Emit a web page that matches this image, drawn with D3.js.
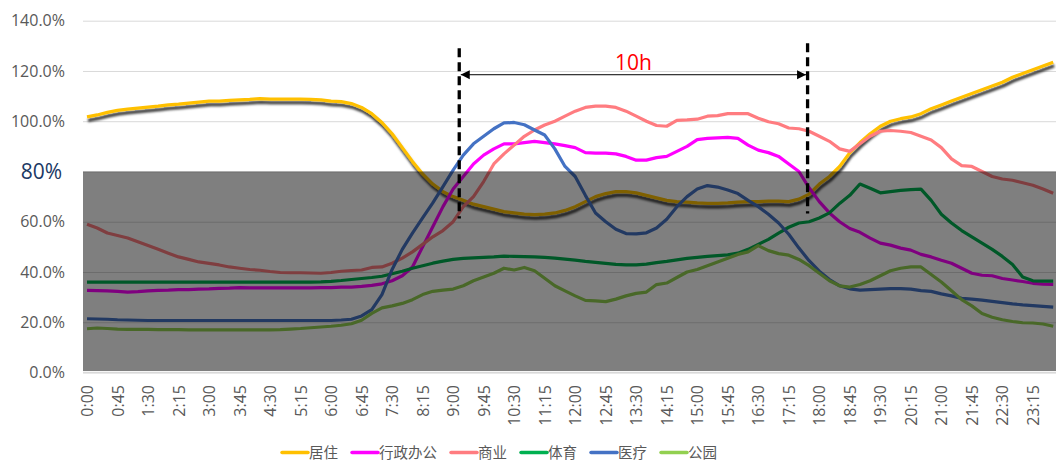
<!DOCTYPE html>
<html lang="zh">
<head>
<meta charset="UTF-8">
<title>各类用地活力时变</title>
<script src="https://cdn.jsdelivr.net/npm/d3@7/dist/d3.min.js"></script>
<style>
body{margin:0;background:#fff;}
svg{display:block;font-family:"Open Sans","Noto Sans CJK SC",sans-serif;}
</style>
</head>
<body>
<script>
// 每15分钟一个时刻, 0:00 ~ 23:45
var times = d3.range(96).map(function(i){ return Math.floor(i/4) + ":" + String(i%4*15).padStart(2,"0"); });
var yTicks = [0,20,40,60,80,100,120,140];
var names = ["居住","行政办公","商业","体育","医疗","公园"];

var juzhu = [101.7,102.5,103.5,104.3,104.8,105.2,105.6,106,106.5,106.8,
	107.2,107.6,108,108,108.3,108.5,108.7,109,108.8,108.8,
	108.8,108.8,108.7,108.5,108,107.8,107,105.5,103,99.5,
	95,89.5,84,79,75,72,70,68.5,67,66,
	65,64,63.5,63,62.8,63,63.5,64.5,66,68,
	70,71.2,72,72,71.5,70.5,69.5,68.5,68,67.8,
	67.5,67.3,67.3,67.5,67.8,68,68,68.2,68.2,68,
	69,71,75,78,82,87.5,91.5,95,98,100,
	101,101.7,103,105,106.5,108,109.5,111,112.5,114,
	115.5,117.5,119,120.5,122,123.5];
var xingzheng = [32.7,32.6,32.5,32.3,32,32.2,32.5,32.7,32.8,33,
	33,33.2,33.3,33.5,33.6,33.8,33.7,33.7,33.7,33.7,
	33.7,33.7,33.7,33.8,33.8,34,34,34.3,34.7,35.3,
	36.5,38.5,42,50,58,66,73,78,83,86.5,
	89,91,91,91.5,92,91.5,91,90.3,89.5,87.5,
	87.3,87.3,87,86,84.5,84.5,85.5,86,88,90,
	92.7,93.2,93.4,93.6,93.2,90.5,88.5,87.5,86,83,
	80,73.5,68,63.5,60,57.3,55.8,53.5,51.5,50.7,
	49.5,48.7,47,46,44.7,43.5,41.5,39.5,38.7,38.5,
	37.4,36.8,36.2,35.5,35.2,35.1];
var shangye = [59,57.5,55.5,54.5,53.5,52,50.5,49,47.5,46,
	45,44,43.4,42.8,42,41.5,41,40.7,40.2,39.8,
	39.7,39.7,39.6,39.5,39.8,40.3,40.6,40.8,41.8,42,
	43.5,45.5,48,51,54,56.5,60,66,70,76,
	83,87,90.5,94,96.5,98.5,100,102,104,105.5,
	106,106,105.5,104,102,100,98.3,98,100.3,100.5,
	100.8,102,102.2,103,103,103,101.2,99.8,99,97.3,
	97,96,94,92,89,88,91,94,96,96.3,
	96,95.5,94,92.5,89.5,85,82.3,82,80,78,
	77,76.5,75.5,74.5,73,71.3];
var tiyu = [36,36,36,36,36,36,36,36,36,36,
	36,36,36,36,36,36,36,36,36,36,
	36,36,36,36.1,36.3,36.6,37,37.4,37.8,38.3,
	39.3,40.3,41.5,42.5,43.5,44.3,45,45.4,45.6,45.8,
	46,46.3,46.2,46.1,46,45.8,45.5,45.1,44.7,44.2,
	43.8,43.4,43,42.8,42.8,43.1,43.7,44.2,44.8,45.4,
	45.8,46.2,46.5,46.8,47.5,49,51,53,55.5,57.8,
	59.5,60,61.5,63.5,67.3,70.5,75,73.3,71.5,72,
	72.5,72.8,73,68.5,63,59.5,56.5,54,51.5,49,
	46.2,43,38,36.5,36.4,36.4];
var yiliao = [21.4,21.3,21.2,21,20.9,20.8,20.7,20.7,20.7,20.7,
	20.7,20.7,20.7,20.7,20.7,20.7,20.7,20.7,20.7,20.7,
	20.7,20.7,20.7,20.7,20.7,20.9,21.2,22.5,25,31,
	41,49,55.5,61.5,67.5,74,80.5,86.5,91,94,
	97,99.3,99.5,98.6,96.5,94.5,89,82,78,70.5,
	63.5,60,57,55.3,55.2,55.6,57.5,61,66,70,
	73,74.4,73.8,72.6,71.2,68.5,66,63,59.5,55,
	49.5,44.5,40.3,37,34.5,33.3,32.8,33,33.2,33.4,
	33.4,33.2,32.6,32.3,31.3,30.5,29.5,29.2,28.8,28.3,
	27.8,27.3,26.9,26.6,26.3,26];
var gongyuan = [17.4,17.7,17.5,17.3,17.2,17.2,17.2,17.1,17.1,17.1,
	17,17,17,17,17,17,17,17,17,17.1,
	17.3,17.5,17.8,18.1,18.4,18.8,19.4,20.8,23.5,25.7,
	26.5,27.5,29,31,32.3,32.8,33.2,34.5,36.5,38,
	39.5,41.5,40.8,41.8,40.5,37.5,34.5,32.5,30.5,28.7,
	28.5,28.2,29.2,30.5,31.5,32,35,35.6,37.8,40,
	41,42.5,44,45.5,47,48,50.5,48.5,47.3,46.7,
	45,42.5,39.5,36.5,34.5,34,35,36.5,38.5,40.5,
	41.5,42,42,39,36,32.5,29,26.5,23.5,22,
	21,20.3,19.8,19.7,19.3,18.4];

// 标注: 10h 区间(按时刻序号)
var spanFrom = 36.6, spanTo = 70.85, spanLabel = "10h";
var highlight = 80; // 阴影区上限

var series = [juzhu, xingzheng, shangye, tiyu, yiliao, gongyuan];
var colors = ["#FFC000","#FF00FF","#FF7C80","#00B050","#4472C4","#92D050"];

var width = 1056, height = 461;
var left = 83, right = 1056;
var svg = d3.select("body").append("svg").attr("width",width).attr("height",height);

var x = d3.scaleLinear().domain([0,95]).range([87,1053.2]);
var y = d3.scaleLinear().domain([0,140]).range([372.5,20.7]);

var defs = svg.append("defs");
defs.append("filter").attr("id","shadow").attr("x","-5%").attr("y","-30%").attr("width","110%").attr("height","160%")
	.append("feDropShadow").attr("dx",1).attr("dy",3.5).attr("stdDeviation",1.2)
	.attr("flood-color","#000").attr("flood-opacity",0.8);
["s","e"].forEach(function(k){
	defs.append("marker").attr("id","arr"+k).attr("markerUnits","userSpaceOnUse")
		.attr("markerWidth",10).attr("markerHeight",10).attr("refX",k=="e"?9:0).attr("refY",4.5)
		.attr("orient","auto")
		.append("path").attr("d",k=="e"?"M0,0L9,4.5L0,9Z":"M9,0L0,4.5L9,9Z").attr("fill","#000");
});

//网格线
var grid = svg.append("g").attr("transform","translate("+left+",0)")
	.call(d3.axisLeft(y).tickValues(yTicks).tickSize(-(right-left)).tickFormat(""));
grid.select(".domain").remove();
grid.selectAll("line").attr("stroke","#D9D9D9").attr("stroke-width",1);

//y轴文字
var yAxis = svg.append("g").attr("transform","translate("+left+",0)")
	.call(d3.axisLeft(y).tickValues(yTicks).tickSize(0).tickPadding(18)
		.tickFormat(function(d){ return d.toFixed(1)+"%"; }));
yAxis.select(".domain").remove();
yAxis.selectAll("text").attr("fill","#595959").style("font-size","16px").style("font-family","Open Sans");
yAxis.selectAll(".tick").filter(function(d){ return d==highlight; }).select("text")
	.text(highlight+"%").attr("fill","#203864").style("font-size","21px").attr("x",-21);

//x轴文字
var xAxis = svg.append("g").attr("transform","translate(0,"+y(0)+")")
	.call(d3.axisBottom(x).tickValues(d3.range(0,96,3)).tickSize(0)
		.tickFormat(function(i){ return times[i]; }));
xAxis.select(".domain").remove();
xAxis.selectAll("text").attr("fill","#595959").style("font-size","16px").style("font-family","Open Sans")
	.attr("transform","rotate(-90)").attr("x",-12.5).attr("y",0).attr("dy","0.35em")
	.style("text-anchor","end");

//折线
var line = d3.line().x(function(d,i){ return x(i); }).y(function(d){ return y(d); });
svg.selectAll(".series").data(series).enter().append("path").attr("class","series")
	.attr("d",line).attr("fill","none")
	.attr("stroke",function(d,i){ return colors[i]; })
	.attr("stroke-width",3.2).attr("stroke-linejoin","round")
	.attr("filter",function(d,i){ return i==0 ? "url(#shadow)" : null; });

//阴影区
svg.append("rect").attr("x",left).attr("y",y(highlight))
	.attr("width",right-left).attr("height",y(0)-y(highlight)-1.5)
	.attr("fill","#000").attr("opacity",0.5);
svg.append("line").attr("x1",left).attr("x2",right).attr("y1",y(0)).attr("y2",y(0))
	.attr("stroke","#D9D9D9").attr("stroke-width",1.5);

//10h 标注
var dash = [[spanFrom,129,61.3],[spanTo,131,63.3]];
svg.selectAll(".dash").data(dash).enter().append("line").attr("class","dash")
	.attr("x1",function(d){ return x(d[0]); }).attr("x2",function(d){ return x(d[0]); })
	.attr("y1",function(d){ return y(d[1]); }).attr("y2",function(d){ return y(d[2]); })
	.attr("stroke","#000").attr("stroke-width",3.3).attr("stroke-dasharray","9,5");
svg.append("line").attr("x1",x(spanFrom)+1.5).attr("x2",x(spanTo)-1.5)
	.attr("y1",y(118.5)).attr("y2",y(118.5))
	.attr("stroke","#000").attr("stroke-width",1)
	.attr("marker-start","url(#arrs)").attr("marker-end","url(#arre)");
svg.append("text").attr("x",(x(spanFrom)+x(spanTo))/2).attr("y",69.5)
	.attr("text-anchor","middle").attr("fill","#FF0000").style("font-size","21px")
	.text(spanLabel);

//图例
var lx = 282;
names.forEach(function(n,i){
	svg.append("line").attr("x1",lx).attr("x2",lx+26).attr("y1",452.5).attr("y2",452.5)
		.attr("stroke",colors[i]).attr("stroke-width",3.5).attr("stroke-linecap","round");
	var t = svg.append("text").attr("x",lx+27).attr("y",452.5).attr("dy","0.35em")
		.attr("fill","#595959").style("font-size","14.5px").style("font-family","Noto Sans CJK SC")
		.text(n);
	lx += 27 + t.node().getComputedTextLength() + 14;
});
</script>
</body>
</html>
